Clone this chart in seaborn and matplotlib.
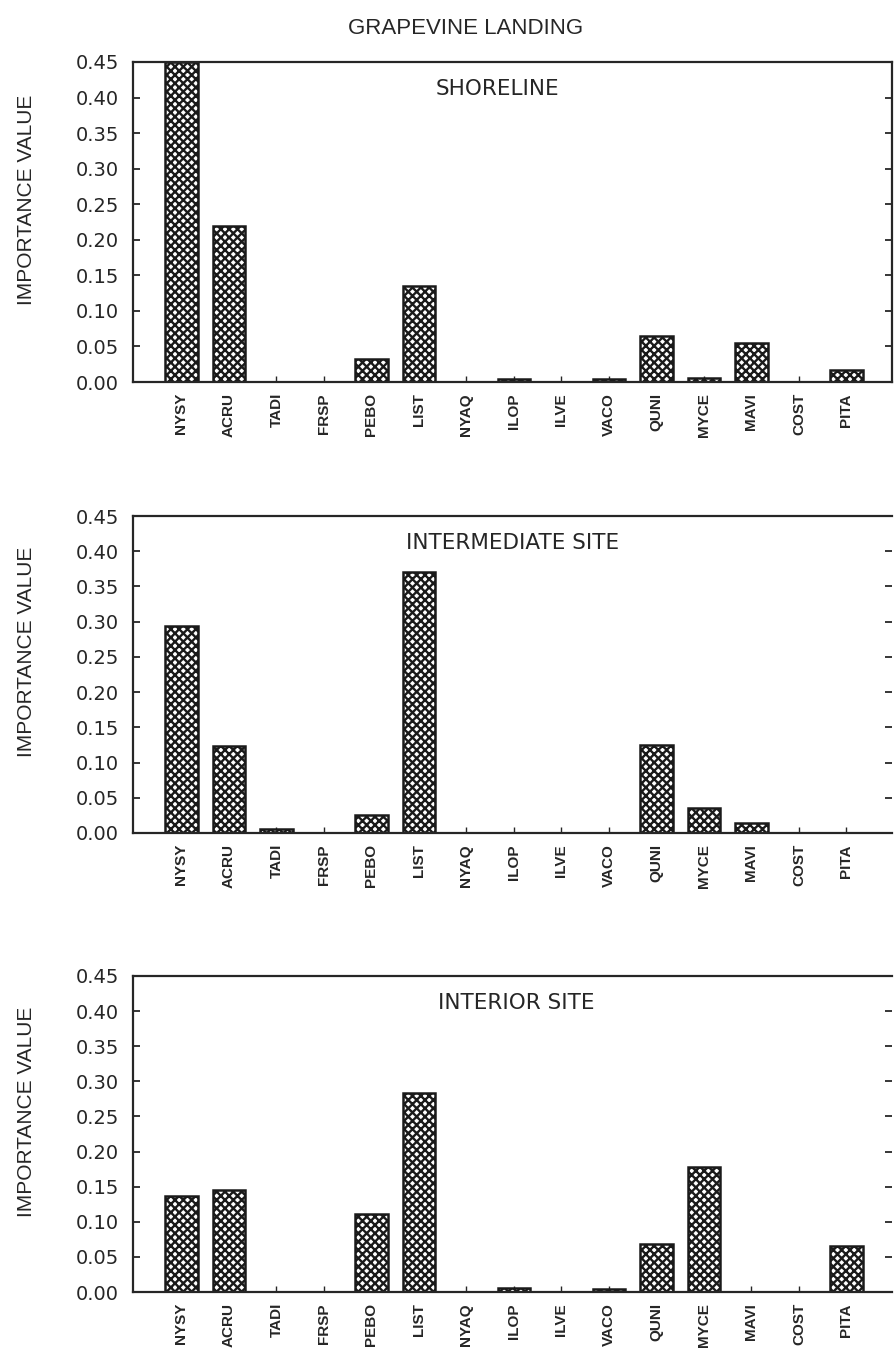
import numpy as np
import pandas as pd
import matplotlib
matplotlib.use("Agg")
import matplotlib.pyplot as plt
import seaborn as sns

# Species codes along the x axis
species = ["NYSY", "ACRU", "TADI", "FRSP", "PEBO", "LIST", "NYAQ", "ILOP",
           "ILVE", "VACO", "QUNI", "MYCE", "MAVI", "COST", "PITA"]

# Importance values at each site
shoreline = [0.450, 0.220, 0.0, 0.0, 0.033, 0.135, 0.0, 0.004,
             0.0, 0.004, 0.064, 0.005, 0.055, 0.0, 0.017]
intermediate = [0.294, 0.123, 0.005, 0.0, 0.026, 0.370, 0.0, 0.0,
                0.0, 0.0, 0.125, 0.036, 0.014, 0.0, 0.0]
interior = [0.136, 0.145, 0.0, 0.0, 0.111, 0.284, 0.0, 0.005,
            0.0, 0.004, 0.068, 0.178, 0.0, 0.0, 0.066]

site_names = ["SHORELINE", "INTERMEDIATE SITE", "INTERIOR SITE"]
yticks = [0.00, 0.05, 0.10, 0.15, 0.20, 0.25, 0.30, 0.35, 0.40, 0.45]
title = "GRAPEVINE LANDING"

sns.set_style("ticks")
plt.rcParams["font.family"] = ["DejaVu Sans"]
plt.rcParams["hatch.linewidth"] = 1.7
plt.rcParams["hatch.color"] = "#1a1a1a"

ink = "#262626"

fig = plt.figure(figsize=(8.94, 13.61), dpi=100)
W, H = 894, 1361
# (top, bottom) pixel rows of each panel frame
frames = [(62, 382), (516, 833), (976, 1292)]
left_px, right_px = 133, 892

series = [shoreline, intermediate, interior]
label_x = [0.48, 0.50, 0.505]

for i, ((top, bot), vals, name) in enumerate(zip(frames, series, site_names)):
    ax = fig.add_axes([left_px / W, 1 - bot / H,
                       (right_px - left_px) / W, (bot - top) / H])
    df = pd.DataFrame({"species": species, "iv": vals})
    sns.barplot(data=df, x="species", y="iv", order=species, ax=ax,
                color="white", edgecolor="#1a1a1a", linewidth=1.8,
                width=0.69, saturation=1)
    for p in ax.patches:
        p.set_hatch("xxxx")

    ax.set_xlim(-1.02, 14.96)
    ax.set_ylim(0, 0.45)
    ax.set_yticks(yticks)
    ax.set_yticklabels([f"{t:.2f}" for t in yticks])
    ax.tick_params(axis="y", direction="in", length=5, width=1.3,
                   right=True, labelright=False, pad=10,
                   labelsize=14, labelcolor=ink, color=ink)
    ax.tick_params(axis="x", direction="in", length=4, width=1.0,
                   pad=8, labelrotation=90, color=ink)
    for lab in ax.get_xticklabels():
        lab.set_fontfamily("Liberation Sans")
        lab.set_fontweight("bold")
        lab.set_fontsize(11)
        lab.set_color(ink)

    for s in ax.spines.values():
        s.set_linewidth(1.6)
        s.set_color(ink)
    if i > 0:
        ax.spines["right"].set_visible(False)

    ax.set_xlabel("")
    ax.set_ylabel("IMPORTANCE VALUE", fontfamily="Liberation Sans",
                  fontsize=15, color=ink)
    ax.yaxis.set_label_coords(-0.128, 0.57)

    ax.text(label_x[i], 0.915, name, transform=ax.transAxes,
            ha="center", va="center", fontsize=15.5, color=ink)

fig.text(466 / W, 1 - 28 / H, title, ha="center", va="center",
         fontfamily="Liberation Sans", fontsize=16, color=ink)

fig.savefig("out.png", dpi=100, facecolor="white")
